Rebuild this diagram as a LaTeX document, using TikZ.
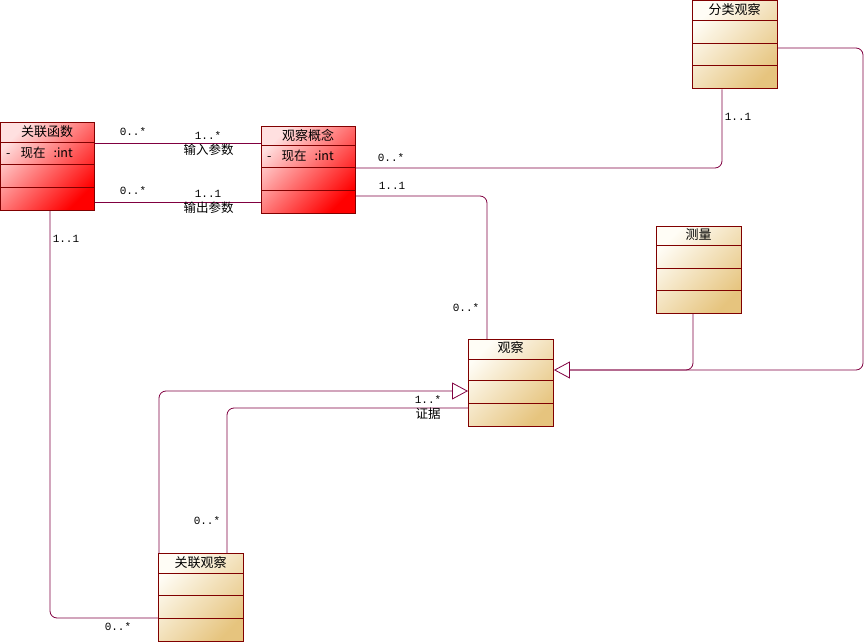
\documentclass[tikz,border=0pt]{standalone}
\usepackage{fontspec}
\setmainfont{Noto Sans CJK SC}
\newfontfamily\multfont{Liberation Mono}
\usetikzlibrary{arrows.meta,positioning}
\definecolor{clsborder}{HTML}{800000}
\definecolor{linkcol}{HTML}{800040}
\definecolor{redlight}{HTML}{FFE0E0}
\definecolor{redfull}{HTML}{FF0000}
\definecolor{tanlight}{HTML}{FFFDF6}
\definecolor{tanfull}{HTML}{E6C47E}
\begin{document}
\begin{tikzpicture}[x=1pt, y=-1pt,
    cls/.style={draw=clsborder, line width=0.9pt, inner sep=0pt, anchor=north west, shading angle=45},
    redcls/.style={left color=redlight, right color=redfull, cls},
    tancls/.style={left color=tanlight, right color=tanfull, cls},
    sep/.style={draw=clsborder, line width=0.9pt},
    title/.style={font=\fontsize{13}{15}\selectfont, inner sep=0pt},
    attr/.style={font=\fontsize{12.5}{15}\selectfont, inner sep=0pt, anchor=west},
    assoc/.style={draw=linkcol, line width=0.8pt, rounded corners=7pt},
    gen/.style={assoc, -{Triangle[open, length=16pt, width=17pt]}},
    mult/.style={font=\multfont\fontsize{11}{13}\selectfont, inner sep=0pt},
    role/.style={font=\fontsize{12.5}{15}\selectfont, inner sep=0pt}]
        \useasboundingbox (0,0) rectangle (865,642);
        % classes
        \node[redcls, minimum width=94pt, minimum height=88pt] (gl) at (0,122) {};
        \node[title] at (47,132) {关联函数};
        \node[attr] at (6,153) {-\hspace{10pt}现在\hspace{8pt}:int};
        \draw[sep] (0,142) -- (94,142);
        \draw[sep] (0,164) -- (94,164);
        \draw[sep] (0,187) -- (94,187);
        \node[redcls, minimum width=94pt, minimum height=87pt] (gk) at (261,126) {};
        \node[title] at (308,135) {观察概念};
        \node[attr] at (267,156) {-\hspace{10pt}现在\hspace{8pt}:int};
        \draw[sep] (261,145) -- (355,145);
        \draw[sep] (261,167) -- (355,167);
        \draw[sep] (261,190) -- (355,190);
        \node[tancls, minimum width=85pt, minimum height=88pt] (fl) at (692,0.5) {};
        \node[title] at (734.5,10) {分类观察};
        \draw[sep] (692,20) -- (777,20);
        \draw[sep] (692,43) -- (777,43);
        \draw[sep] (692,65) -- (777,65);
        \node[tancls, minimum width=85pt, minimum height=87pt] (cl) at (656,226) {};
        \node[title] at (698.5,235) {测量};
        \draw[sep] (656,245) -- (741,245);
        \draw[sep] (656,268) -- (741,268);
        \draw[sep] (656,290) -- (741,290);
        \node[tancls, minimum width=85pt, minimum height=87pt] (gc) at (468,339) {};
        \node[title] at (510.5,348) {观察};
        \draw[sep] (468,359) -- (553,359);
        \draw[sep] (468,380) -- (553,380);
        \draw[sep] (468,403) -- (553,403);
        \node[tancls, minimum width=85pt, minimum height=88pt] (lo) at (158,553) {};
        \node[title] at (200.5,563) {关联观察};
        \draw[sep] (158,573) -- (243,573);
        \draw[sep] (158,595) -- (243,595);
        \draw[sep] (158,618) -- (243,618);
        % associations
        \draw[assoc] (gl.east |- 0,143) -- (gk.west |- 0,143);
        \draw[assoc] (gl.east |- 0,202) -- (gk.west |- 0,202);
        \draw[assoc] (gk.east |- 0,168) -| (722,0 |- fl.south);
        \draw[assoc] (gk.east |- 0,196) -| (487,0 |- gc.north);
        \draw[assoc] (227,0 |- lo.north) |- (gc.west |- 0,408);
        \draw[assoc] (50,0 |- gl.south) |- (lo.west |- 0,618);
        % generalizations
        \draw[gen] (fl.east |- 0,48) -| (863,370) -- (gc.east |- 0,370);
        \draw[assoc, shorten >=16pt] (693,0 |- cl.south) |- (gc.east |- 0,370);
        \draw[gen] (159,0 |- lo.north) |- (gc.west |- 0,391);
        % labels
        \node[mult] at (133,132) {0..*};
        \node[mult] at (208,136) {1..*};
        \node[role] at (208.5,149.5) {输入参数};
        \node[mult] at (133,190.5) {0..*};
        \node[mult] at (208,194) {1..1};
        \node[role] at (208.5,207.5) {输出参数};
        \node[mult] at (391,158) {0..*};
        \node[mult] at (392,186) {1..1};
        \node[mult] at (738,117) {1..1};
        \node[mult] at (466,308) {0..*};
        \node[mult] at (428,400) {1..*};
        \node[role] at (428,414) {证据};
        \node[mult] at (207,521) {0..*};
        \node[mult] at (66,239) {1..1};
        \node[mult] at (118,627) {0..*};
\end{tikzpicture}
\end{document}
